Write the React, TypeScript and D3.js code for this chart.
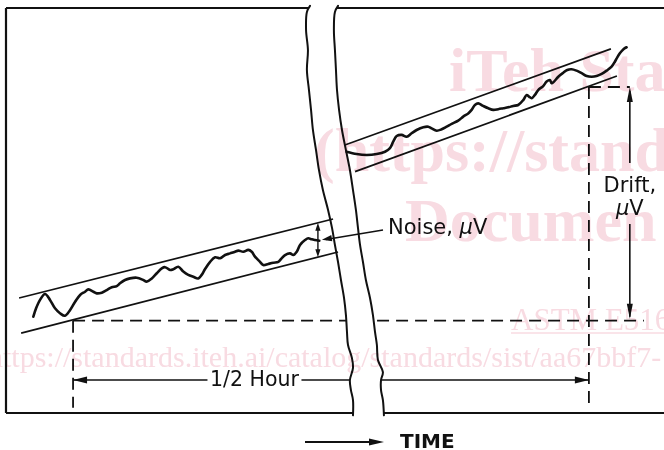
import * as d3 from "d3";

type Pt = [number, number]; // [minutes, microvolts]

const W = 664;
const H = 450;
const FRAME = { left: 6, right: 668, top: 8, bottom: 413 };

// axis extents of the recorder chart (minutes, µV)
const TIME_DOMAIN: Pt = [-3.9, 34.6];
const SIGNAL_DOMAIN: Pt = [-3.95, 13.38];

const HALF_HOUR: Pt = [0, 30];
const DRIFT = 10;
const BASELINE_END = 33.2;
const DRIFT_AT = 32.38;
const NOISE_AT = 14.24;
const DIM_LEVEL = -2.54;
const DASH_BOTTOM = -3.73;

const lowerBandTop: Pt[] = [[-3.14, 0.97], [15.12, 4.35]];
const lowerBandBottom: Pt[] = [[-3.02, -0.53], [15.41, 2.94]];
const upperBandTop: Pt[] = [[15.81, 7.52], [31.28, 11.63]];
const upperBandBottom: Pt[] = [[16.4, 6.38], [31.63, 10.47]];

const lowerTrace: Pt[] = [
  [-2.31, 0.17], [-2.15, 0.53], [-1.92, 0.89], [-1.63, 1.14], [-1.34, 0.89],
  [-1.05, 0.53], [-0.76, 0.32], [-0.47, 0.21], [-0.17, 0.46], [0.12, 0.81],
  [0.41, 1.1], [0.7, 1.24], [0.89, 1.34], [1.18, 1.24], [1.38, 1.17],
  [1.67, 1.2], [1.96, 1.31], [2.25, 1.43], [2.54, 1.48], [2.73, 1.6],
  [3.02, 1.74], [3.31, 1.81], [3.7, 1.84], [4.09, 1.74], [4.28, 1.67],
  [4.58, 1.81], [4.87, 2.03], [5.16, 2.24], [5.35, 2.29], [5.64, 2.17],
  [5.83, 2.2], [6.12, 2.31], [6.41, 2.1], [6.7, 1.96], [6.99, 1.88],
  [7.28, 1.81], [7.48, 1.96], [7.67, 2.2], [7.97, 2.52], [8.26, 2.71],
  [8.55, 2.67], [8.84, 2.81], [9.13, 2.88], [9.42, 2.95], [9.61, 3.0],
  [9.9, 2.95], [10.19, 3.03], [10.39, 2.95], [10.58, 2.74], [10.87, 2.52],
  [11.06, 2.38], [11.35, 2.43], [11.65, 2.48], [11.94, 2.52], [12.13, 2.67],
  [12.33, 2.81], [12.62, 2.88], [12.81, 2.81], [13.01, 2.95], [13.2, 3.24],
  [13.49, 3.45], [13.68, 3.53], [13.88, 3.48], [14.07, 3.45], [14.32, 3.42],
];

const upperTrace: Pt[] = [
  [15.91, 7.23], [16.49, 7.13], [17.08, 7.09], [17.66, 7.13], [18.14, 7.23],
  [18.43, 7.38], [18.62, 7.66], [18.82, 7.9], [19.11, 7.95], [19.4, 7.87],
  [19.69, 8.02], [19.98, 8.16], [20.37, 8.28], [20.66, 8.3], [20.85, 8.23],
  [21.15, 8.13], [21.44, 8.19], [21.73, 8.3], [22.02, 8.42], [22.4, 8.56],
  [22.69, 8.73], [22.98, 8.87], [23.18, 9.02], [23.37, 9.23], [23.56, 9.3],
  [23.85, 9.19], [24.15, 9.09], [24.44, 9.02], [24.73, 9.05], [25.02, 9.09],
  [25.31, 9.13], [25.6, 9.19], [25.89, 9.23], [26.18, 9.44], [26.38, 9.66],
  [26.53, 9.58], [26.67, 9.52], [26.86, 9.66], [27.05, 9.87], [27.34, 10.04],
  [27.54, 10.23], [27.73, 10.3], [27.83, 10.16], [27.97, 10.23], [28.22, 10.44],
  [28.51, 10.61], [28.74, 10.73], [28.99, 10.76], [29.28, 10.7], [29.58, 10.59],
  [29.87, 10.47], [30.16, 10.44], [30.45, 10.47], [30.74, 10.56], [31.03, 10.7],
  [31.32, 10.87], [31.51, 11.08], [31.65, 11.27], [31.8, 11.44], [31.96, 11.58],
  [32.09, 11.66], [32.19, 11.7],
];

// torn-paper break through the chart
const breakLeft: Pt[] = [
  [13.78, 13.47], [13.6, 13.21], [13.55, 12.44], [13.66, 11.58], [13.6, 10.73],
  [13.72, 9.87], [13.84, 9.02], [13.95, 8.16], [14.13, 7.3], [14.3, 6.45],
  [14.53, 5.59], [14.83, 4.74], [15.06, 3.97], [15.23, 3.24], [15.41, 2.51],
  [15.58, 1.74], [15.76, 0.97], [15.87, 0.24], [15.93, -0.48], [15.99, -1.04],
  [16.22, -1.6], [16.28, -2.02], [16.1, -2.54], [16.16, -2.97], [16.28, -3.4],
  [16.28, -4.05],
];
const breakRight: Pt[] = [
  [15.41, 13.47], [15.23, 13.21], [15.17, 12.44], [15.23, 11.58], [15.29, 10.73],
  [15.35, 9.87], [15.47, 9.02], [15.64, 8.16], [15.87, 7.3], [16.1, 6.45],
  [16.28, 5.59], [16.45, 4.74], [16.57, 3.97], [16.69, 3.24], [16.86, 2.51],
  [17.03, 1.74], [17.27, 0.97], [17.44, 0.24], [17.56, -0.48], [17.67, -1.04],
  [17.73, -1.68], [18.02, -2.2], [17.91, -2.54], [17.91, -2.97], [18.02, -3.4],
  [18.08, -4.05],
];

const FONT = "DejaVu Sans, Verdana, sans-serif";
const INK = "#111";
const DASH = "12 7";
const MARK = "#f8dbe2";

// filled arrowhead with its tip at (x, y) pointing along angle
const head = (x: number, y: number, angle: number, len = 12, half = 3.5) => {
  const c = Math.cos(angle);
  const s = Math.sin(angle);
  const bx = x - c * len;
  const by = y - s * len;
  return `M${x},${y}L${bx - s * half},${by + c * half}L${bx + s * half},${by - c * half}Z`;
};

const at = (seg: Pt[], t: number) =>
  seg[0][1] + ((seg[1][1] - seg[0][1]) * (t - seg[0][0])) / (seg[1][0] - seg[0][0]);

const App = () => {
  const x = d3.scaleLinear().domain(TIME_DOMAIN).range([FRAME.left, FRAME.right]);
  const y = d3.scaleLinear().domain(SIGNAL_DOMAIN).range([FRAME.bottom, FRAME.top]);

  const straight = d3.line<Pt>().x((d) => x(d[0])).y((d) => y(d[1]));
  const wavy = d3
    .line<Pt>()
    .x((d) => x(d[0]))
    .y((d) => y(d[1]))
    .curve(d3.curveCatmullRom.alpha(0.5));

  const gap = [...breakLeft, ...breakRight.slice().reverse()]
    .map((d) => `${x(d[0])},${y(d[1])}`)
    .join(" ");

  const x0 = x(HALF_HOUR[0]);
  const x30 = x(HALF_HOUR[1]);
  const y0 = y(0);
  const yDrift = y(DRIFT);
  const yDim = y(DIM_LEVEL);
  const yDashEnd = y(DASH_BOTTOM);

  const xNoise = x(NOISE_AT);
  const nTop = y(at(lowerBandTop, NOISE_AT));
  const nBot = y(at(lowerBandBottom, NOISE_AT));
  const nMid = (nTop + nBot) / 2;

  const xDrift = x(DRIFT_AT);
  const dimTextX = x(10.55);

  return (
    <svg
      width={W}
      height={H}
      style={{ position: "absolute", left: 0, top: 0, background: "#fff" }}
    >
      <rect width={W} height={H} fill="#fff" />

      {/* frame */}
      <g stroke={INK} strokeWidth={2.2} fill="none">
        <line x1={FRAME.left} y1={FRAME.top} x2={FRAME.right} y2={FRAME.top} />
        <line x1={FRAME.left} y1={FRAME.top} x2={FRAME.left} y2={FRAME.bottom} />
        <line x1={FRAME.left} y1={FRAME.bottom} x2={FRAME.right} y2={FRAME.bottom} />
      </g>

      {/* reference dashes */}
      <g stroke={INK} strokeWidth={1.8} strokeDasharray={DASH} fill="none">
        <line x1={x0} y1={y0} x2={x(BASELINE_END)} y2={y0} />
        <line x1={x0} y1={y0} x2={x0} y2={yDashEnd} />
        <line x1={x30} y1={yDrift} x2={x30} y2={yDashEnd} />
        <line x1={x30} y1={yDrift} x2={xDrift} y2={yDrift} />
      </g>

      {/* 1/2 hour dimension */}
      <g stroke={INK} strokeWidth={1.6}>
        <line x1={x0} y1={yDim} x2={dimTextX - 47} y2={yDim} />
        <line x1={dimTextX + 47} y1={yDim} x2={x30} y2={yDim} />
      </g>
      <path d={head(x0, yDim, Math.PI, 14, 3.5)} fill={INK} />
      <path d={head(x30, yDim, 0, 14, 3.5)} fill={INK} />
      <text x={dimTextX} y={yDim + 5.5} textAnchor="middle" fontFamily={FONT} fontSize={20.5} fill={INK}>
        1/2 Hour
      </text>

      {/* break in the chart */}
      <polygon points={gap} fill="#fff" />

      {/* bands */}
      <g stroke={INK} strokeWidth={1.7} fill="none">
        <path d={straight(lowerBandTop) ?? ""} />
        <path d={straight(lowerBandBottom) ?? ""} />
        <path d={straight(upperBandTop) ?? ""} />
        <path d={straight(upperBandBottom) ?? ""} />
      </g>

      {/* recorder traces */}
      <g stroke={INK} strokeWidth={2.6} fill="none" strokeLinejoin="round" strokeLinecap="round">
        <path d={wavy(lowerTrace) ?? ""} />
        <path d={wavy(upperTrace) ?? ""} />
      </g>

      {/* break edges */}
      <g stroke={INK} strokeWidth={2} fill="none" strokeLinecap="round">
        <path d={wavy(breakLeft) ?? ""} />
        <path d={wavy(breakRight) ?? ""} />
      </g>

      {/* noise */}
      <line x1={xNoise} y1={nTop + 6} x2={xNoise} y2={nBot - 6} stroke={INK} strokeWidth={1.4} />
      <path d={head(xNoise, nTop, -Math.PI / 2, 8, 2.6)} fill={INK} />
      <path d={head(xNoise, nBot, Math.PI / 2, 8, 2.6)} fill={INK} />
      <line x1={383} y1={230} x2={xNoise + 8} y2={nMid - 0.5} stroke={INK} strokeWidth={1.5} />
      <path d={head(xNoise + 4, nMid - 0.2, Math.atan2(nMid - 230, xNoise + 4 - 383), 10, 3.2)} fill={INK} />
      <text x={388} y={234} fontFamily={FONT} fontSize={21} fill={INK}>
        Noise, <tspan fontStyle="italic">μ</tspan>V
      </text>

      {/* drift */}
      <line x1={xDrift} y1={yDrift + 4} x2={xDrift} y2={163} stroke={INK} strokeWidth={1.6} />
      <line x1={xDrift} y1={224} x2={xDrift} y2={y0 - 4} stroke={INK} strokeWidth={1.6} />
      <path d={head(xDrift, yDrift, -Math.PI / 2, 15, 3)} fill={INK} />
      <path d={head(xDrift, y0 - 2, Math.PI / 2, 15, 3)} fill={INK} />
      <text x={xDrift} y={192} textAnchor="middle" fontFamily={FONT} fontSize={21} fill={INK}>
        Drift,
      </text>
      <text x={xDrift} y={215} textAnchor="middle" fontFamily={FONT} fontSize={21} fill={INK}>
        <tspan fontStyle="italic">μ</tspan>V
      </text>

      {/* time direction */}
      <line x1={305} y1={442} x2={372} y2={442} stroke={INK} strokeWidth={1.8} />
      <path d={head(384, 442, 0, 15, 3.5)} fill={INK} />
      <text x={400} y={447.5} fontFamily={FONT} fontWeight="bold" fontSize={20} fill={INK}>
        TIME
      </text>

      {/* watermark of the source document */}
      <g
        fontFamily="Liberation Serif, Times New Roman, serif"
        fill={MARK}
        style={{ mixBlendMode: "multiply" }}
      >
        <text x={449} y={91} fontSize={62} fontWeight="bold">iTeh Sta</text>
        <text x={314} y={171} fontSize={62} fontWeight="bold">(https://stand</text>
        <text x={405} y={241} fontSize={62} fontWeight="bold">Documen</text>
        <text x={511} y={330} fontSize={31}>ASTM E516</text>
        <line x1={511} y1={333} x2={W} y2={333} stroke={MARK} strokeWidth={1.5} />
        <text x={-12} y={367} fontSize={30}>https://standards.iteh.ai/catalog/standards/sist/aa67bbf7-</text>
      </g>
    </svg>
  );
};

export default App;
